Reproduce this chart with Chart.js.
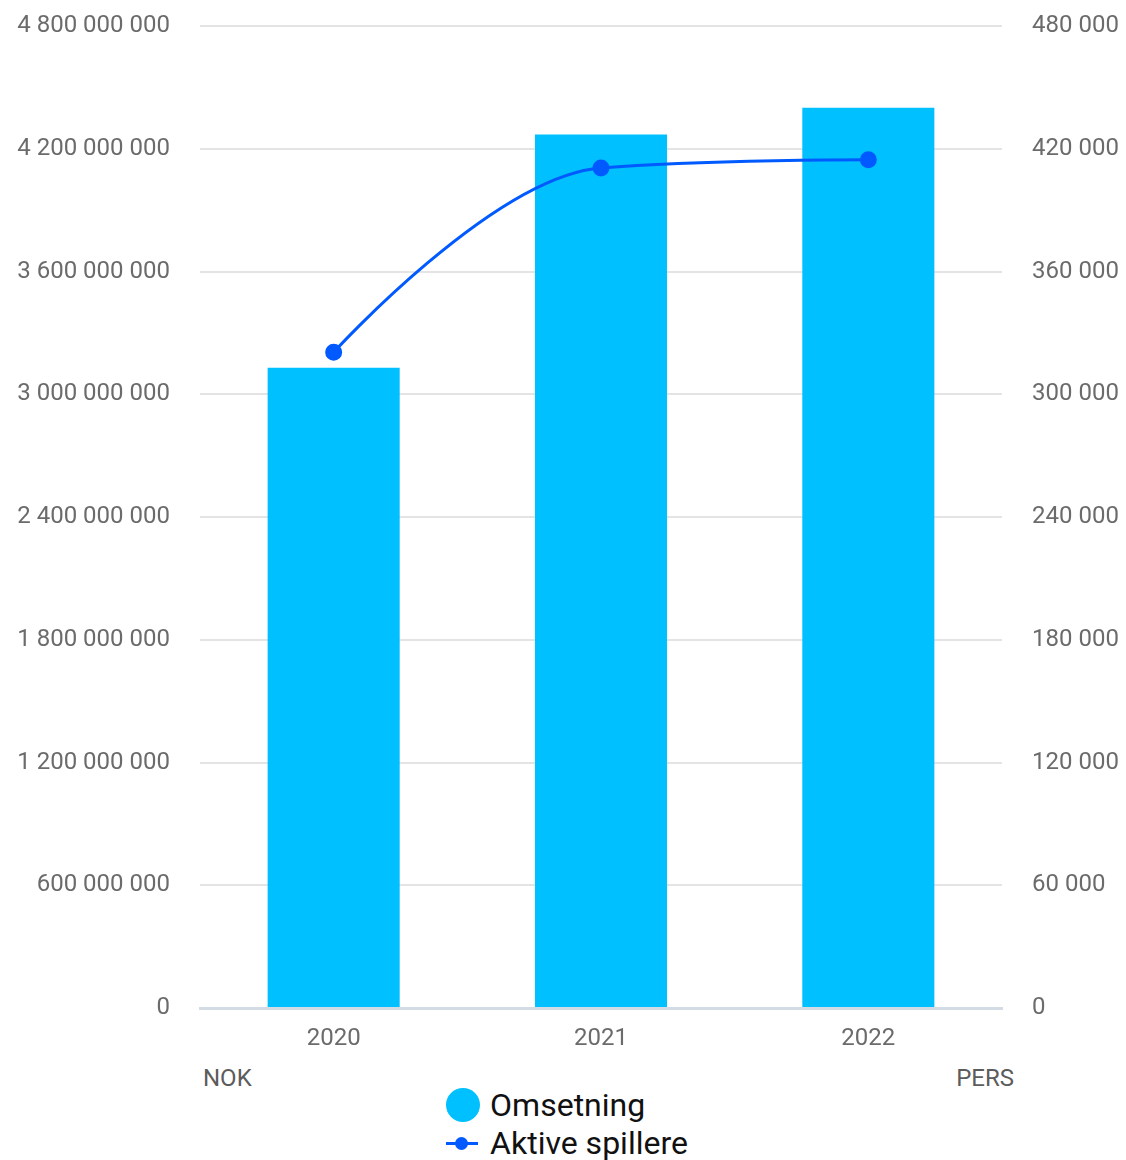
<!DOCTYPE html>
<html>
<head>
<meta charset="utf-8">
<script src="https://cdn.jsdelivr.net/npm/chart.js@4.4.1/dist/chart.umd.min.js"></script>
<style>
    body { margin: 0; background: #fff; font-family: Roboto, "Noto Sans", sans-serif; }
    #wrap { position: relative; width: 1126px; height: 1160px; }
    #box { position: absolute; left: 0; top: 0; width: 1126px; height: 1060px; }
    .unit { position: absolute; top: 1064px; font-size: 24px; color: #5c5c5c; }
    #legend { position: absolute; top: 1086px; left: 4px; width: 1126px; display: flex; justify-content: center; }
    #legend .row { display: flex; align-items: center; height: 38px; font-size: 32px; color: #111; }
    .ico { width: 34px; height: 34px; margin-right: 10px; position: relative; }
    .dot { position: absolute; left: 0; top: 0; width: 34px; height: 34px; border-radius: 50%; background: #00c0ff; }
    .ln { position: absolute; left: 0; top: 16px; width: 32px; height: 3px; background: #005aff; }
    .pt { position: absolute; left: 9px; top: 11px; width: 13px; height: 13px; border-radius: 50%; background: #005aff; }
</style>
</head>
<body>
<div id="wrap">
    <div id="box"><canvas id="chart"></canvas></div>
    <div class="unit" style="left:203px">NOK</div>
    <div class="unit" style="right:112px">PERS</div>
    <div id="legend">
        <div>
            <div class="row"><div class="ico"><div class="dot"></div></div>Omsetning</div>
            <div class="row"><div class="ico"><div class="ln"></div><div class="pt"></div></div>Aktive spillere</div>
        </div>
    </div>
</div>
<script>
var years = ['2020', '2021', '2022'];
var omsetning = [3130000000, 4270000000, 4400000000];
var aktiveSpillere = [320500, 410600, 414600];

function spaced(v) {
    return String(v).replace(/\B(?=(\d{3})+(?!\d))/g, ' ');
}

// spline control points (smoothing 1.5, no overshoot past neighbours)
var splinePlugin = {
    id: 'spline',
    afterDatasetUpdate: function (chart, args) {
        var meta = args.meta;
        if (meta.type !== 'line') return;
        var pts = meta.data;
        var sm = 1.5, den = sm + 1;
        for (var i = 0; i < pts.length; i++) {
            var p = pts[i];
            p.cp1x = p.x; p.cp1y = p.y;
            p.cp2x = p.x; p.cp2y = p.y;
            if (i === 0 || i === pts.length - 1) continue;
            var a = pts[i - 1], b = pts[i + 1];
            var lx = (sm * p.x + a.x) / den, ly = (sm * p.y + a.y) / den;
            var rx = (sm * p.x + b.x) / den, ry = (sm * p.y + b.y) / den;
            var corr = ((ry - ly) * (rx - p.x)) / (rx - lx) + p.y - ry;
            ly += corr; ry += corr;
            if (ly > a.y && ly > p.y) { ly = Math.max(a.y, p.y); ry = 2 * p.y - ly; }
            else if (ly < a.y && ly < p.y) { ly = Math.min(a.y, p.y); ry = 2 * p.y - ly; }
            if (ry > b.y && ry > p.y) { ry = Math.max(b.y, p.y); ly = 2 * p.y - ry; }
            else if (ry < b.y && ry < p.y) { ry = Math.min(b.y, p.y); ly = 2 * p.y - ry; }
            p.cp1x = lx; p.cp1y = ly;
            p.cp2x = rx; p.cp2y = ry;
        }
        meta.dataset._pointsUpdated = true;
    }
};

var tickFont = { family: 'Roboto', size: 24 };
var tickColor = '#6b6b6b';

function fitY(w) {
    return function (s) {
        s.width = w;
        s.paddingTop = 0;
        s.paddingBottom = 0;
    };
}

var config = {
    type: 'bar',
    data: {
        labels: years,
        datasets: [
            {
                type: 'line',
                label: 'Aktive spillere',
                data: aktiveSpillere,
                yAxisID: 'y2',
                borderColor: '#005aff',
                backgroundColor: '#005aff',
                borderWidth: 3,
                tension: 0.4,
                pointRadius: 7,
                pointHoverRadius: 7,
                order: 0
            }, {
                label: 'Omsetning',
                data: omsetning,
                yAxisID: 'y',
                backgroundColor: '#00c0ff',
                categoryPercentage: 1,
                barPercentage: 0.494,
                order: 1
            }]
    },
    options: {
        responsive: true,
        maintainAspectRatio: false,
        animation: false,
        layout: { padding: { top: 26, left: 0, right: 0, bottom: 0 } },
        plugins: {
            legend: { display: false },
            tooltip: { enabled: false }
        },
        scales: {
            x: {
                grid: { display: false },
                border: { color: '#d3dbe4', width: 3 },
                ticks: { font: tickFont, color: tickColor, padding: 9 },
                afterFit: function (s) {
                    s.height = 52;
                    s.paddingLeft = 0;
                    s.paddingRight = 0;
                }
            },
            y: {
                position: 'left',
                min: 0,
                max: 4800000000,
                ticks: {
                    stepSize: 600000000,
                    font: tickFont,
                    color: tickColor,
                    padding: 30,
                    callback: function (v) { return spaced(v); }
                },
                grid: { color: '#e4e4e4', lineWidth: 2, drawTicks: false },
                border: { display: false },
                afterFit: fitY(200)
            },
            y2: {
                position: 'right',
                min: 0,
                max: 480000,
                ticks: {
                    stepSize: 60000,
                    font: tickFont,
                    color: tickColor,
                    padding: 30,
                    callback: function (v) { return spaced(v); }
                },
                grid: { display: false, drawTicks: false },
                border: { display: false },
                afterFit: fitY(124)
            }
        }
    },
    plugins: [splinePlugin]
};

var ctx = document.getElementById('chart').getContext('2d');
var myChart = new Chart(ctx, config);
</script>
</body>
</html>
